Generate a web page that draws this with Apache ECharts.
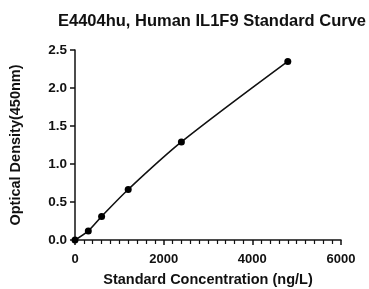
<!DOCTYPE html>
<html>
<head>
<meta charset="utf-8">
<script src="https://cdn.jsdelivr.net/npm/echarts@6/dist/echarts.min.js"></script>
<style>
  html, body { margin: 0; padding: 0; background: #fff; }
  #chart { width: 369px; height: 289px; }
</style>
</head>
<body>
<div id="chart"></div>
<script>
// 标准曲线数据
var concentration = [0, 300, 600, 1200, 2400, 4800];
var density = [0, 0.12, 0.31, 0.665, 1.29, 2.35];
var xTicks = [0, 2000, 4000, 6000];
var yTicks = [0.0, 0.5, 1.0, 1.5, 2.0, 2.5];

var points = concentration.map(function (c, i) { return [c, density[i]]; });

var chart = echarts.init(document.getElementById('chart'));
chart.setOption({
    animation: false,
    title: {
        text: 'E4404hu, Human IL1F9 Standard Curve',
        left: 207,
        top: 8,
        textAlign: 'center',
        textStyle: {
            fontFamily: 'Liberation Sans',
            fontSize: 16.5,
            fontWeight: 'bold',
            color: '#111'
        }
    },
    grid: {
        left: 75,
        right: 28,
        top: 50,
        bottom: 49,
        outerBoundsMode: 'none'
    },
    xAxis: {
        type: 'value',
        min: xTicks[0],
        max: xTicks[xTicks.length - 1],
        interval: 2000,
        name: 'Standard Concentration (ng/L)',
        nameLocation: 'middle',
        nameGap: 32,
        nameTextStyle: {
            fontFamily: 'Liberation Sans',
            fontSize: 14.5,
            fontWeight: 'bold',
            color: '#111'
        },
        axisLine: { lineStyle: { color: '#111', width: 1.5 } },
        axisTick: { length: 5, lineStyle: { color: '#111', width: 1.5 } },
        minorTick: { show: true, splitNumber: 10, length: 4, lineStyle: { color: '#111', width: 1.2 } },
        axisLabel: {
            fontFamily: 'Liberation Sans',
            fontSize: 13,
            fontWeight: 'bold',
            color: '#111',
            margin: 13,
            formatter: function (v) { return String(v); }
        },
        splitLine: { show: false }
    },
    yAxis: {
        type: 'value',
        min: yTicks[0],
        max: yTicks[yTicks.length - 1],
        interval: 0.5,
        name: 'Optical Density(450nm)',
        nameLocation: 'middle',
        nameGap: 52,
        nameTextStyle: {
            fontFamily: 'Liberation Sans',
            fontSize: 14.5,
            fontWeight: 'bold',
            color: '#111'
        },
        axisLine: { show: true, lineStyle: { color: '#111', width: 1.5 } },
        axisTick: { show: true, length: 5, lineStyle: { color: '#111', width: 1.5 } },
        axisLabel: {
            fontFamily: 'Liberation Sans',
            fontSize: 13.5,
            fontWeight: 'bold',
            color: '#111',
            margin: 8,
            formatter: function (v) { return v.toFixed(1); }
        },
        splitLine: { show: false }
    },
    series: [
        {
            type: 'line',
            data: points,
            smooth: 0.3,
            symbol: 'circle',
            symbolSize: 7,
            itemStyle: { color: '#000' },
            lineStyle: { color: '#111', width: 1.6 }
        }
    ]
});
</script>
</body>
</html>
